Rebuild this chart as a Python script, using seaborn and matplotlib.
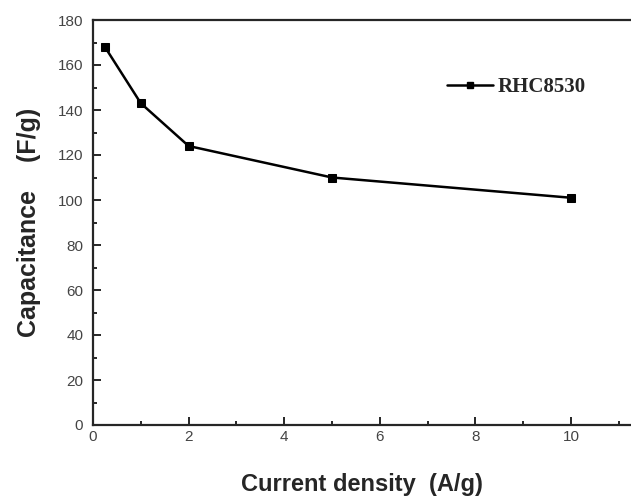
import numpy as np
import pandas as pd
import matplotlib
matplotlib.use('Agg')
import matplotlib.pyplot as plt
import seaborn as sns
from matplotlib.ticker import MultipleLocator

# data
current_density = [0.25, 1, 2, 5, 10]
capacitance = [168, 143, 124, 110, 101]
series_name = 'RHC8530'

df = pd.DataFrame({'x': current_density, 'y': capacitance, 'sample': series_name})

sns.set_style('ticks')
plt.rcParams['font.family'] = ['Liberation Sans', 'DejaVu Sans']

fig = plt.figure(figsize=(6.31, 4.97), dpi=100)
ax = fig.add_axes([93 / 631, 1 - 425 / 497, 1 - 93 / 631, (425 - 20) / 497])

sns.lineplot(data=df, x='x', y='y', marker='s', color='black', linewidth=1.8,
             markersize=6, markeredgecolor='black', ax=ax, legend=False)

ax.set_xlim(0, (631 - 93) / 47.8)
ax.set_ylim(0, 180)
ax.xaxis.set_major_locator(MultipleLocator(2))
ax.xaxis.set_minor_locator(MultipleLocator(1))
ax.yaxis.set_major_locator(MultipleLocator(20))
ax.yaxis.set_minor_locator(MultipleLocator(10))
ax.tick_params(which='both', direction='in', top=False, right=False,
               labelsize=11, labelcolor='#444444', width=1.4)
ax.tick_params(axis='y', pad=7)
ax.tick_params(which='major', length=6)
ax.tick_params(which='minor', length=3)
ax.spines['right'].set_visible(False)
for s in ['left', 'bottom', 'top']:
    ax.spines[s].set_linewidth(1.6)

ax.set_xlabel('Current density  (A/g)', fontsize=17, fontweight='bold', labelpad=21)
ax.set_ylabel('Capacitance    (F/g)', fontsize=18, fontweight='bold', labelpad=12)

handle = plt.Line2D([], [], color='black', marker='s', markersize=5, linewidth=1.8)
ax.legend([handle], [series_name], loc='center left',
          bbox_to_anchor=((447 - 93) / 538, (425 - 87) / 405),
          frameon=False, handlelength=2.2, handletextpad=0.25,
          borderpad=0, borderaxespad=0,
          prop={'family': 'Liberation Serif', 'weight': 'bold', 'size': 15})

fig.savefig('out.png', dpi=100)
